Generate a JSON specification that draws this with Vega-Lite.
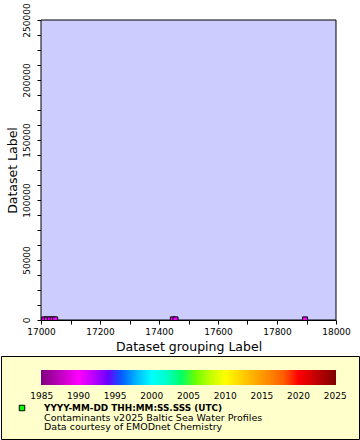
{
  "$schema": "https://vega.github.io/schema/vega-lite/v6.json",
  "padding": {"top": 2, "left": 0, "right": 0, "bottom": 0},
  "background": "white",
  "config": {
    "font": "DejaVu Sans",
    "axis": {
      "labelFont": "DejaVu Sans",
      "titleFont": "DejaVu Sans",
      "labelColor": "black",
      "titleColor": "black",
      "domainColor": "black",
      "tickColor": "black",
      "titleFontWeight": "normal",
      "grid": false
    }
  },
  "vconcat": [
    {
      "width": 359,
      "height": 300,
      "view": {"stroke": null},
      "layer": [
        {
          "data": {"values": [{}]},
          "mark": {"type": "rect", "fill": "#ccccff", "stroke": "black", "strokeWidth": 1},
          "encoding": {
            "x": {"datum": 17000, "type": "quantitative"},
            "x2": {"datum": 18000},
            "y": {"datum": 0, "type": "quantitative"},
            "y2": {"datum": 250000}
          }
        },
        {
          "data": {
            "values": [
              {"group": 17011, "value": 500, "year": 1990.5},
              {"group": 17020, "value": 500, "year": 1990},
              {"group": 17030, "value": 500, "year": 1991},
              {"group": 17040, "value": 500, "year": 1990},
              {"group": 17048, "value": 500, "year": 1990.5},
              {"group": 17447, "value": 500, "year": 1990},
              {"group": 17456, "value": 500, "year": 1990.5},
              {"group": 17895, "value": 500, "year": 1990}
            ]
          },
          "mark": {"type": "point", "shape": "square", "filled": true, "size": 25, "stroke": "black", "strokeWidth": 1, "opacity": 1, "clip": true},
          "encoding": {
            "x": {"field": "group", "type": "quantitative"},
            "y": {"field": "value", "type": "quantitative"},
            "color": {
              "field": "year", "type": "quantitative",
              "scale": {
                "domain": [1984.9, 1990, 1995, 2000, 2005, 2010, 2015, 2020, 2025.1],
                "range": ["#800080", "#ff00ff", "#0000ff", "#00ffff", "#00ff00", "#ffff00", "#ff9900", "#ff0000", "#800000"]
              },
              "legend": {
                "orient": "none",
                "legendX": 40,
                "legendY": 350,
                "direction": "horizontal",
                "gradientLength": 295,
                "gradientThickness": 15,
                "gradientStrokeWidth": 0,
                "title": null,
                "values": [1985, 1990, 1995, 2000, 2005, 2010, 2015, 2020, 2025],
                "format": "d",
                "labelFont": "DejaVu Sans",
                "labelFontSize": 9,
                "labelColor": "black",
                "labelOffset": 7,
                "labelOverlap": false,
                "padding": 0
              }
            }
          }
        }
      ],
      "encoding": {
        "x": {
          "type": "quantitative",
          "scale": {"domain": [17000, 18000], "range": [40, 335], "nice": false, "zero": false},
          "axis": {
            "title": "Dataset grouping Label",
            "values": [17000, 17100, 17200, 17300, 17400, 17500, 17600, 17700, 17800, 17900, 18000],
            "labelExpr": "datum.value % 200 == 0 ? datum.label : ''",
            "format": "d",
            "tickSize": 4,
            "labelFontSize": 9,
            "labelPadding": 3,
            "labelOverlap": false,
            "labelFlush": false,
            "titleFontSize": 12.5,
            "titlePadding": 4
          }
        },
        "y": {
          "type": "quantitative",
          "scale": {"domain": [0, 250000], "nice": false},
          "axis": {
            "title": "Dataset Label",
            "offset": -40,
            "values": [0, 12500, 25000, 37500, 50000, 62500, 75000, 87500, 100000, 112500, 125000, 137500, 150000, 162500, 175000, 187500, 200000, 212500, 225000, 237500, 250000],
            "labelExpr": "datum.value % 50000 == 0 ? datum.label : ''",
            "format": "d",
            "tickSize": 4,
            "labelAngle": -90,
            "labelAlign": "center",
            "labelBaseline": "bottom",
            "labelFontSize": 9,
            "labelPadding": 6,
            "labelOverlap": false,
            "labelFlush": false,
            "titleFontSize": 12.5,
            "titlePadding": 3
          }
        }
      }
    },
    {
      "width": 358,
      "height": 83,
      "view": {"fill": "#ffffcc", "stroke": "black", "strokeWidth": 1},
      "data": {
        "values": [
          {"line": 1, "text": "YYYY-MM-DD THH:MM:SS.SSS (UTC)"},
          {"line": 2, "text": "Contaminants v2025 Baltic Sea Water Profiles"},
          {"line": 3, "text": "Data courtesy of EMODnet Chemistry"}
        ]
      },
      "encoding": {
        "y": {"field": "line", "type": "ordinal", "axis": null, "scale": {"type": "point", "domain": [1, 2, 3], "range": [52, 71], "padding": 0}}
      },
      "layer": [
        {
          "transform": [{"filter": "datum.line == 1"}],
          "mark": {"type": "point", "shape": "square", "filled": true, "color": "#00ff00", "stroke": "black", "strokeWidth": 1, "size": 30, "opacity": 1},
          "encoding": {
            "x": {"datum": "symbol", "type": "ordinal", "axis": null, "scale": {"type": "point", "domain": ["symbol", "text"], "range": [21, 43], "padding": 0}}
          }
        },
        {
          "transform": [{"filter": "datum.line == 1"}],
          "mark": {"type": "text", "align": "left", "baseline": "middle", "font": "DejaVu Sans", "fontWeight": "bold", "fontSize": 8.9, "color": "black"},
          "encoding": {
            "x": {"datum": "text", "type": "ordinal", "axis": null},
            "text": {"field": "text"}
          }
        },
        {
          "transform": [{"filter": "datum.line > 1"}],
          "mark": {"type": "text", "align": "left", "baseline": "middle", "font": "DejaVu Sans", "fontSize": 9.5, "color": "black"},
          "encoding": {
            "x": {"datum": "text", "type": "ordinal", "axis": null},
            "text": {"field": "text"}
          }
        }
      ]
    }
  ],
  "spacing": 2
}
